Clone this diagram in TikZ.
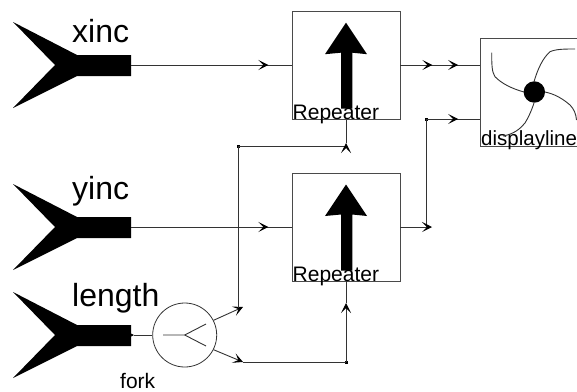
\documentclass[tikz,border=0pt]{standalone}
\usepackage{fontspec}
\setmainfont{Liberation Sans}
\usetikzlibrary{arrows.meta,positioning,decorations.markings}
\definecolor{lijn}{HTML}{333333}
\definecolor{rand}{HTML}{4A4A4A}
\tikzset{
  wire/.style={draw=lijn,line width=0.9pt},
  barb/.style={-{Stealth[length=10pt,width=10pt,inset=5pt,black]}},
  midtip/.style={postaction={decorate,decoration={markings,mark=at position #1 with {\arrow{Stealth[length=10pt,width=10pt,inset=5pt,black]}}}}},
  blockbox/.style={draw=rand,line width=0.9pt,minimum width=108pt,minimum height=108pt,inner sep=0pt},
  bigtext/.style={font=\fontsize{32}{32}\selectfont,anchor=base west,inner sep=0pt},
  midtext/.style={font=\fontsize{21}{21}\selectfont,anchor=base west,inner sep=0pt},
}
\newcommand{\inport}[2]{%
  \fill (13,#1-43) -- (77,#1-10) -- (131,#1-10) -- (131,#1+11) -- (77,#1+11) -- (13,#1+43) -- (55,#1) -- cycle;
  \coordinate (#2) at (131,#1);}
\newcommand{\bigup}[1]{%
  \fill (346,#1) -- (367,#1+31.5) -- (352.3,#1+30) -- (352.3,#1+86) -- (341,#1+86) -- (341,#1+30) -- (325,#1+31.5) -- cycle;}
\begin{document}
\begin{tikzpicture}[x=1pt,y=-1pt]
  \useasboundingbox (0,0) rectangle (577,391);
  % inputs
  \inport{65}{xport}
  \inport{227}{yport}
  \inport{335}{lport}
  \node[bigtext] (xinc) at (72,42) {xinc};
  \node[bigtext] (yinc) at (72,199) {yinc};
  \node[bigtext] (length) at (72,306) {length};
  \node[midtext] (forklabel) at (120,388) {fork};
  % blocks
  \node[blockbox] (rep1) at (346,65.5) {};
  \node[blockbox] (rep2) at (346,227) {};
  \node[blockbox] (disp) at (534.5,92) {};
  \bigup{22.7}
  \bigup{184.5}
  \node[midtext] (rep1label) at (292.5,119.5) {Repeater};
  \node[midtext] (rep2label) at (292.5,281) {Repeater};
  \node[midtext,font=\fontsize{20.5}{20.5}\selectfont] (displabel) at (481,145.5) {displayline};
  % fork
  \node[draw=lijn,circle,minimum size=64pt,inner sep=0pt,line width=0.8pt] (fork) at (184.7,335) {};
  \draw[wire] (163,335) -- (184.7,335) -- (206,324);
  \draw[wire] (184.7,335) -- (206,346);
  % display fan
  \fill (534.3,92) circle (10.7);
  \draw[wire] (491.7,52.7) .. controls (491.7,66) and (492,72) .. (495,76.7) .. controls (502,84) and (513,89) .. (524,92);
  \draw[wire] (534,81.7) .. controls (538,68) and (543,58) .. (550,51.7) .. controls (556,49) and (565,49) .. (575,49);
  \draw[wire] (545,92) .. controls (555,94) and (563,99) .. (570,105) .. controls (574,109) and (576,114) .. (576.5,120);
  \draw[wire] (534,103) .. controls (531,112) and (528,118) .. (525,123) .. controls (520,129) and (514,134) .. (503,136);
  % wires
  \coordinate (j1) at (238,146);
  \coordinate (j2) at (243,307);
  \coordinate (j2b) at (238,308);
  \coordinate (j3) at (243,362);
  \coordinate (j4) at (346,362);
  \coordinate (j5) at (426.5,119);
  \coordinate (j6) at (432,227);
  \coordinate (j7) at (426.5,227);
  \coordinate (j8) at (346,143);
  \coordinate (j9) at (346,146);
  \coordinate (j10) at (346,303);
  \coordinate (lend) at (134,335);
  \fill (j1) +(-1.5,-1.5) rectangle +(1.5,1.5);
  \fill (j4) +(-1.5,-1.5) rectangle +(1.5,1.5);
  \fill (j5) +(-1.5,-1.5) rectangle +(1.5,1.5);
  \draw[wire,midtip=0.855] (xport) -- (rep1.west |- xport);
  \draw[wire,midtip=0.855] (yport) -- (rep2.west);
  \draw[wire,midtip=0.40,midtip=0.725] (rep1.east |- xport) -- (disp.west |- xport);
  \draw[wire,midtip=0.59] (j5) -- (disp.west |- j5);
  \draw[wire] (j5) -- (j7);
  \draw[wire,barb] (rep2.east) -- (j6);
  \draw[wire,barb] (lport) -- (lend);
  \draw[wire] (lend) -- (fork.west);
  \draw[wire,barb] (fork.27) -- (j2);
  \draw[wire,barb] (fork.-27) -- (j3);
  \draw[wire] (j3) -- (j4);
  \draw[wire,barb] (j4) -- (j10);
  \draw[wire] (j10) -- (rep2.south);
  \draw[wire] (j2b) -- (j1);
  \draw[wire] (j1) -- (j9);
  \draw[wire,barb] (j9) -- (j8);
  \draw[wire] (j8) -- (rep1.south);
\end{tikzpicture}
\end{document}
